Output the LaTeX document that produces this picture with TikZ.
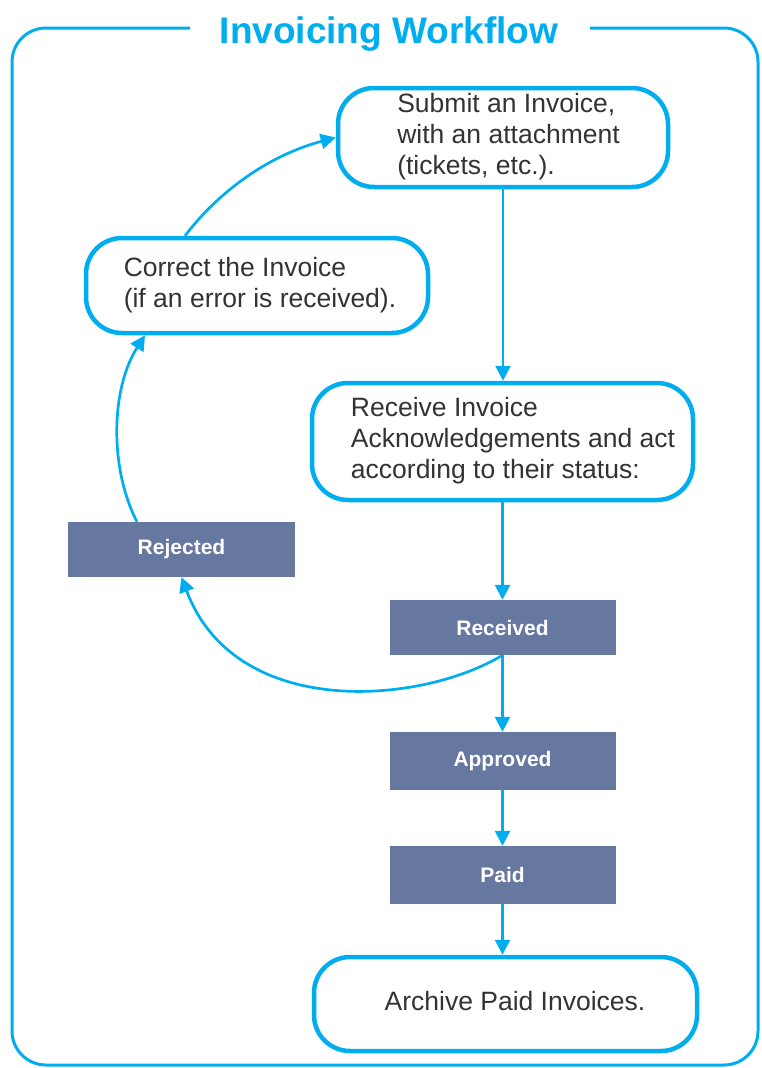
\documentclass[tikz,border=0pt]{standalone}
\usepackage{fontspec}
\setmainfont{Liberation Sans}
\usetikzlibrary{arrows.meta}
\definecolor{wfblue}{HTML}{00AEEF}
\definecolor{wfslate}{HTML}{6677A0}
\definecolor{wftext}{HTML}{333333}
\begin{document}
\begin{tikzpicture}[x=1pt,y=-1pt,
  roundbox/.style={draw=wfblue, line width=4.5pt, rounded corners=36pt, fill=white, text=wftext,
    font=\fontsize{26.5}{31}\selectfont, inner sep=0pt},
  status/.style={fill=wfslate, text=white, font=\bfseries\fontsize{21}{24}\selectfont,
    inner sep=0pt, minimum width=226pt},
  arr/.style={draw=wfblue, line width=2.7pt, -{Triangle[length=15pt,width=15pt]}},
  frame/.style={draw=wfblue, line width=3pt, rounded corners=34pt}]
\useasboundingbox (0,0) rectangle (761,1068);
% frame
\draw[frame] (190,28) -- (12,28) -- (12,1065) -- (758,1065) -- (758,28) -- (590,28);
\node (title) [anchor=base, text=wfblue, font=\bfseries\fontsize{37}{44}\selectfont] at (389,43) {Invoicing Workflow};
% rounded boxes
\node (sub) [roundbox, minimum width=330pt, minimum height=99pt] at (503,137.5)
  {\begin{tabular}{@{\hspace{11pt}}l@{}}Submit an Invoice,\\with an attachment\\(tickets, etc.).\end{tabular}};
\node (corr) [roundbox, minimum width=342pt, minimum height=95pt] at (257,285.5)
  {\begin{tabular}{@{\hspace{6pt}}l@{}}Correct the Invoice\\(if an error is received).\end{tabular}};
\node (rcvbox) [roundbox, minimum width=381pt, minimum height=117pt] at (502.5,441.5)
  {\begin{tabular}{@{\hspace{21pt}}l@{}}Receive Invoice\\Acknowledgements and act\\according to their status:\end{tabular}};
\node (arch) [roundbox, minimum width=383pt, minimum height=94pt] at (505.5,1004)
  {\begin{tabular}{@{\hspace{19pt}}l@{}}Archive Paid Invoices.\end{tabular}};
% status boxes
\node (rej) [status, minimum width=227pt, minimum height=55pt] at (181.5,549.5) {Rejected};
\node (rcv) [status, minimum height=55pt] at (502.5,627.5) {Received};
\node (appr) [status, minimum height=58pt] at (502.5,761) {Approved};
\node (paid) [status, minimum height=58pt] at (502.5,875) {Paid};
% connectors
\draw[arr] (sub.south) -- (sub.south |- rcvbox.north);
\draw[arr] (rcvbox.south -| rcv.north) -- (rcv.north);
\draw[arr] (rcv.south) -- (appr.north);
\draw[arr] (appr.south) -- (paid.north);
\draw[arr] (paid.south) -- (paid.south |- arch.north);
\draw[arr] (rcv.south) .. controls (420,705) and (235,720) .. (rej.south);
\draw[arr] ([xshift=-44.5pt]rej.north) .. controls (110,470) and (110,390) .. ([xshift=-112pt]corr.south);
\draw[arr] ([xshift=-72pt]corr.north) .. controls (220,190) and (270,155) .. (sub.west);
\end{tikzpicture}
\end{document}
